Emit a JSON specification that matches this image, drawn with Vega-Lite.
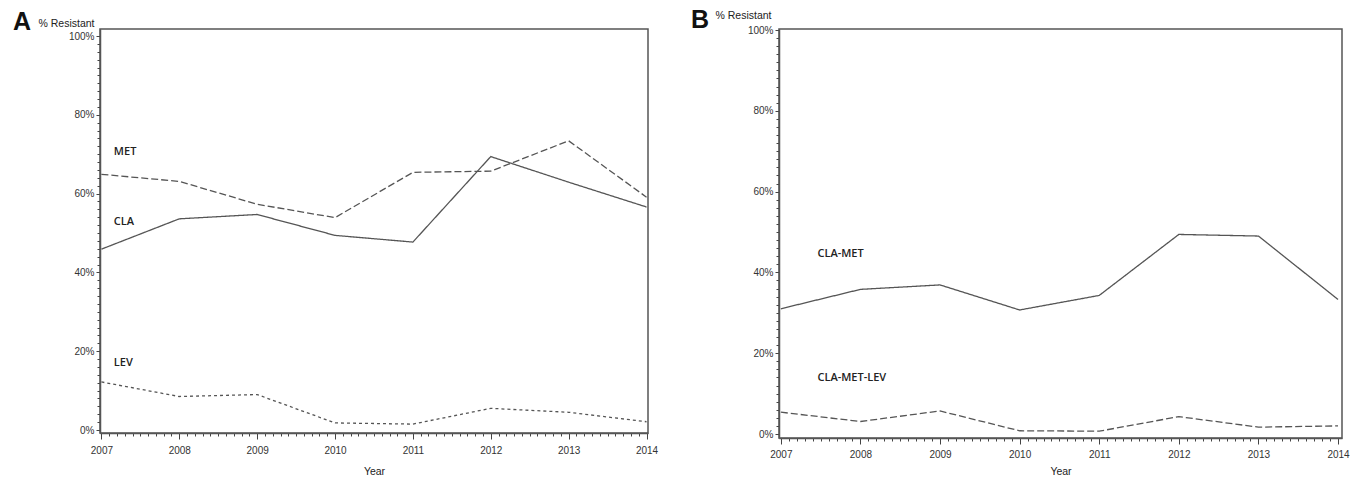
{
  "$schema": "https://vega.github.io/schema/vega-lite/v6.json",
  "padding": {"left": 12, "top": 6, "right": 0, "bottom": 0},
  "background": "white",
  "spacing": 31,
  "datasets": {
    "a": [
      {"year": 2007, "pct": 45.9, "series": "CLA"},
      {"year": 2008, "pct": 53.6, "series": "CLA"},
      {"year": 2009, "pct": 54.7, "series": "CLA"},
      {"year": 2010, "pct": 49.4, "series": "CLA"},
      {"year": 2011, "pct": 47.7, "series": "CLA"},
      {"year": 2012, "pct": 69.4, "series": "CLA"},
      {"year": 2013, "pct": 62.9, "series": "CLA"},
      {"year": 2014, "pct": 56.6, "series": "CLA"},
      {"year": 2007, "pct": 64.9, "series": "MET"},
      {"year": 2008, "pct": 63.1, "series": "MET"},
      {"year": 2009, "pct": 57.3, "series": "MET"},
      {"year": 2010, "pct": 53.9, "series": "MET"},
      {"year": 2011, "pct": 65.4, "series": "MET"},
      {"year": 2012, "pct": 65.7, "series": "MET"},
      {"year": 2013, "pct": 73.4, "series": "MET"},
      {"year": 2014, "pct": 59.1, "series": "MET"},
      {"year": 2007, "pct": 12.2, "series": "LEV"},
      {"year": 2008, "pct": 8.5, "series": "LEV"},
      {"year": 2009, "pct": 9.0, "series": "LEV"},
      {"year": 2010, "pct": 1.8, "series": "LEV"},
      {"year": 2011, "pct": 1.5, "series": "LEV"},
      {"year": 2012, "pct": 5.5, "series": "LEV"},
      {"year": 2013, "pct": 4.5, "series": "LEV"},
      {"year": 2014, "pct": 2.1, "series": "LEV"}
    ],
    "b": [
      {"year": 2007, "pct": 31.0, "series": "CLA-MET"},
      {"year": 2008, "pct": 35.8, "series": "CLA-MET"},
      {"year": 2009, "pct": 36.9, "series": "CLA-MET"},
      {"year": 2010, "pct": 30.7, "series": "CLA-MET"},
      {"year": 2011, "pct": 34.3, "series": "CLA-MET"},
      {"year": 2012, "pct": 49.4, "series": "CLA-MET"},
      {"year": 2013, "pct": 49.0, "series": "CLA-MET"},
      {"year": 2014, "pct": 33.3, "series": "CLA-MET"},
      {"year": 2007, "pct": 5.4, "series": "CLA-MET-LEV"},
      {"year": 2008, "pct": 3.1, "series": "CLA-MET-LEV"},
      {"year": 2009, "pct": 5.7, "series": "CLA-MET-LEV"},
      {"year": 2010, "pct": 0.8, "series": "CLA-MET-LEV"},
      {"year": 2011, "pct": 0.7, "series": "CLA-MET-LEV"},
      {"year": 2012, "pct": 4.3, "series": "CLA-MET-LEV"},
      {"year": 2013, "pct": 1.7, "series": "CLA-MET-LEV"},
      {"year": 2014, "pct": 2.0, "series": "CLA-MET-LEV"}
    ],
    "la": [
      {"year": 2007.16, "pct": 70.6, "label": "MET"},
      {"year": 2007.16, "pct": 52.8, "label": "CLA"},
      {"year": 2007.16, "pct": 17.1, "label": "LEV"}
    ],
    "lb": [
      {"year": 2007.46, "pct": 44.5, "label": "CLA-MET"},
      {"year": 2007.46, "pct": 13.8, "label": "CLA-MET-LEV"}
    ]
  },
  "config": {
    "font": "Liberation Sans",
    "view": {"stroke": "#555", "strokeWidth": 1.5},
    "axis": {
      "domainColor": "#555",
      "domainWidth": 1.5,
      "tickColor": "#444",
      "tickWidth": 1,
      "labelColor": "#333",
      "labelFont": "Liberation Sans",
      "labelFontSize": 10,
      "labelFlush": false,
      "labelOverlap": false,
      "grid": false,
      "titleFont": "Liberation Sans",
      "titleFontWeight": "normal",
      "titleColor": "#222"
    },
    "title": {"font": "Liberation Sans", "fontWeight": "bold", "fontSize": 25, "color": "#111", "anchor": "start", "frame": "group", "baseline": "alphabetic"}
  },
  "hconcat": [
    {
      "width": 548,
      "height": 404,
      "title": {"text": "A", "dx": -87, "offset": -16},
      "layer": [
        {
          "data": {"name": "a"},
          "mark": {"type": "line", "color": "#555", "strokeWidth": 1.3},
          "encoding": {
            "x": {
              "field": "year", "type": "quantitative",
              "scale": {"domain": [2006.982, 2014.019], "nice": false, "zero": false},
              "axis": {
                "title": "Year", "titleFontSize": 10.5, "titlePadding": 11,
                "tickCount": 70,
                "labelExpr": "datum.value % 1 === 0 ? datum.value : ''",
                "tickSize": {"condition": {"test": "datum.value % 1 === 0", "value": 6}, "value": 3},
                "labelPadding": 6
              }
            },
            "y": {
              "field": "pct", "type": "quantitative",
              "scale": {"domain": [-0.76, 101.78], "nice": false, "zero": false},
              "axis": {
                "title": "% Resistant", "titleAngle": 0, "titleAlign": "left", "titleBaseline": "alphabetic",
                "titleX": -62, "titleY": -2.5, "titleFontSize": 10.5,
                "tickCount": 50,
                "labelExpr": "datum.value % 20 === 0 ? datum.value + '%' : ''",
                "tickSize": {"condition": {"test": "datum.value % 20 === 0", "value": 4}, "value": 3},
                "labelPadding": 2
              }
            },
            "strokeDash": {
              "field": "series", "type": "nominal",
              "scale": {"domain": ["CLA", "MET", "LEV"], "range": [[1, 0], [7, 3], [3, 3]]},
              "legend": null
            }
          }
        },
        {
          "data": {"name": "la"},
          "mark": {"type": "text", "align": "left", "baseline": "middle", "font": "Open Sans", "fontSize": 11, "fontWeight": 600, "color": "#222"},
          "encoding": {
            "x": {"field": "year", "type": "quantitative"},
            "y": {"field": "pct", "type": "quantitative"},
            "text": {"field": "label"}
          }
        }
      ]
    },
    {
      "width": 563,
      "height": 409,
      "title": {"text": "B", "dx": -88, "offset": -22.5},
      "layer": [
        {
          "data": {"name": "b"},
          "mark": {"type": "line", "color": "#555", "strokeWidth": 1.3},
          "encoding": {
            "x": {
              "field": "year", "type": "quantitative",
              "scale": {"domain": [2006.977, 2014.05], "nice": false, "zero": false},
              "axis": {
                "title": "Year", "titleFontSize": 10.5, "titlePadding": 7,
                "tickCount": 70,
                "labelExpr": "datum.value % 1 === 0 ? datum.value : ''",
                "tickSize": {"condition": {"test": "datum.value % 1 === 0", "value": 6}, "value": 3},
                "labelPadding": 5
              }
            },
            "y": {
              "field": "pct", "type": "quantitative",
              "scale": {"domain": [-0.99, 100.25], "nice": false, "zero": false},
              "axis": {
                "title": "% Resistant", "titleAngle": 0, "titleAlign": "left", "titleBaseline": "alphabetic",
                "titleX": -64, "titleY": -11, "titleFontSize": 10.5,
                "tickCount": 50,
                "labelExpr": "datum.value % 20 === 0 ? datum.value + '%' : ''",
                "tickSize": {"condition": {"test": "datum.value % 20 === 0", "value": 4}, "value": 3},
                "labelPadding": 2
              }
            },
            "strokeDash": {
              "field": "series", "type": "nominal",
              "scale": {"domain": ["CLA-MET", "CLA-MET-LEV"], "range": [[1, 0], [3, 3]]},
              "legend": null
            }
          }
        },
        {
          "data": {"name": "lb"},
          "mark": {"type": "text", "align": "left", "baseline": "middle", "font": "Open Sans", "fontSize": 11, "fontWeight": 600, "color": "#222"},
          "encoding": {
            "x": {"field": "year", "type": "quantitative"},
            "y": {"field": "pct", "type": "quantitative"},
            "text": {"field": "label"}
          }
        }
      ]
    }
  ]
}
